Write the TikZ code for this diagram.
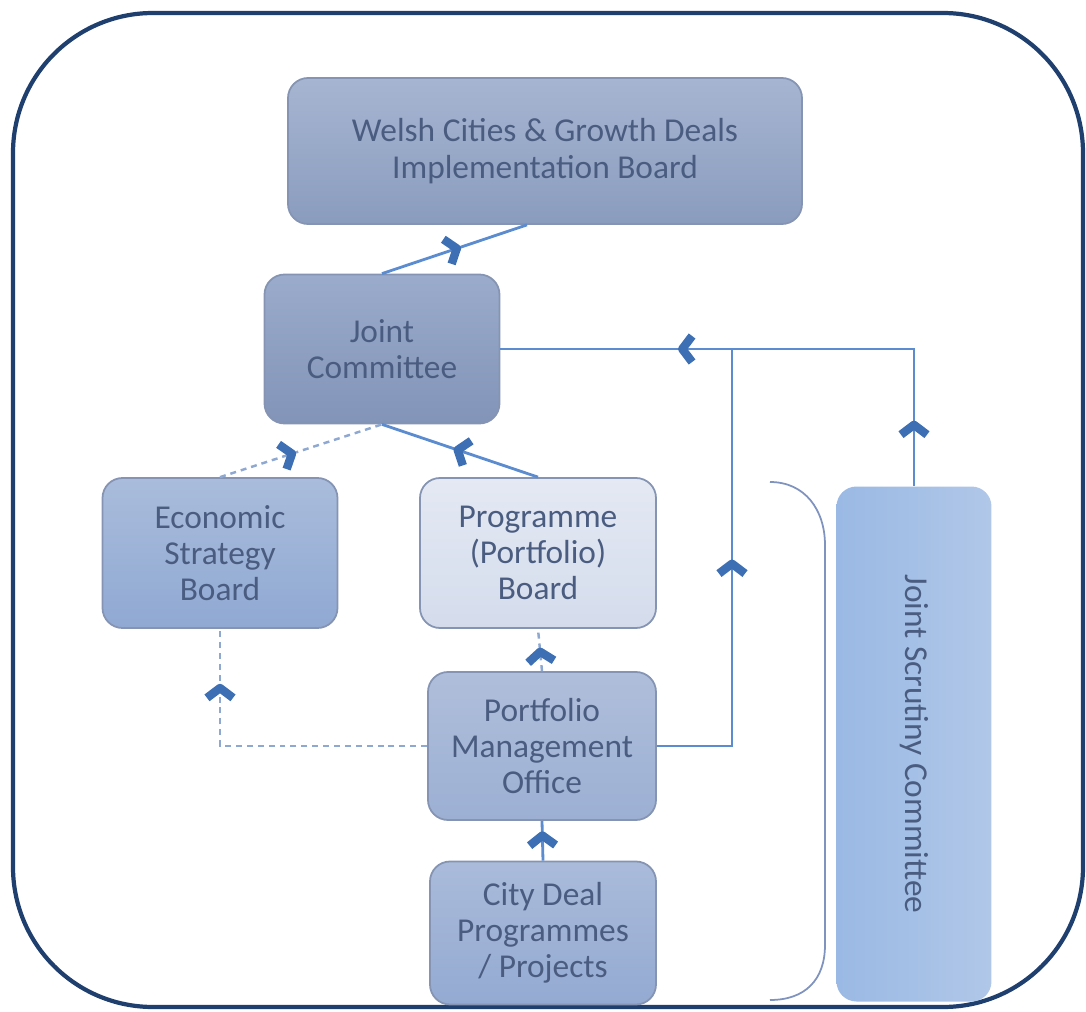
\documentclass[tikz,border=0pt]{standalone}
\usepackage{fontspec}
\setmainfont{Carlito}
\usetikzlibrary{decorations.markings}
\definecolor{framecol}{HTML}{1F3F6E}
\definecolor{boxline}{HTML}{8494B2}
\definecolor{txtcol}{HTML}{4A5C80}
\definecolor{linkcol}{HTML}{5B8CD0}
\definecolor{dashcol}{HTML}{8EA8D2}
\definecolor{chevcol}{HTML}{3D6FB4}
\definecolor{bracketcol}{HTML}{7F93BE}
\definecolor{wcgdtop}{HTML}{A6B5D1}
\definecolor{wcgdbot}{HTML}{8A9CBE}
\definecolor{jctop}{HTML}{9AABCB}
\definecolor{jcbot}{HTML}{8294B8}
\definecolor{esbtop}{HTML}{A9BCDB}
\definecolor{esbbot}{HTML}{90A9D3}
\definecolor{ppbtop}{HTML}{E4E9F3}
\definecolor{ppbbot}{HTML}{D4DCEC}
\definecolor{pmotop}{HTML}{AFBEDA}
\definecolor{pmobot}{HTML}{9CB0D4}
\definecolor{cdptop}{HTML}{AABBDA}
\definecolor{cdpbot}{HTML}{94AAD2}
\definecolor{jscleft}{HTML}{9AB9E4}
\definecolor{jscright}{HTML}{B0C7E8}

\begin{document}
\begin{tikzpicture}[x=0.1mm,y=-0.1mm,
  box/.style={draw=boxline,line width=0.5pt,rounded corners=2mm,align=center,
    text=txtcol,font=\fontsize{9.5}{10.3}\selectfont,inner sep=0pt},
  link/.style={draw=linkcol,line width=0.8pt},
  dlink/.style={draw=dashcol,line width=0.7pt,dash pattern=on 1.7pt off 1.4pt},
  chev/.style={postaction={decorate,decoration={markings,
    mark=at position #1 with {\draw[chevcol,solid,line width=2.4pt,line join=round]
      (-2.1pt,3.7pt) -- (0.7pt,0pt) -- (-2.1pt,-3.7pt);}}}}]
\useasboundingbox (0,0) rectangle (1086,1012);
\draw [framecol,line width=1.2pt,rounded corners=14mm] (13,13) rectangle (1083,1007);

\node [box,top color=wcgdtop,bottom color=wcgdbot,minimum width=51.4mm,minimum height=14.6mm]
  (wcgd) at (545,151) {Welsh Cities \& Growth Deals\\Implementation Board};
\node [box,top color=jctop,bottom color=jcbot,minimum width=23.5mm,minimum height=14.9mm]
  (jc) at (382,349) {Joint\\Committee};
\node [box,top color=esbtop,bottom color=esbbot,minimum width=23.5mm,minimum height=15mm]
  (esb) at (220,553) {Economic\\Strategy\\Board};
\node [box,top color=ppbtop,bottom color=ppbbot,minimum width=23.6mm,minimum height=15mm]
  (ppb) at (538,553) {Programme\\(Portfolio)\\Board};
\node [box,top color=pmotop,bottom color=pmobot,minimum width=22.8mm,minimum height=14.8mm]
  (pmo) at (542,746) {Portfolio\\Management\\Office};
\node [box,top color=cdptop,bottom color=cdpbot,minimum width=22.6mm,minimum height=14.3mm]
  (cdp) at (543,933) {City Deal\\Programmes\\/ Projects};
\node [box,rotate=-90,draw=none,left color=jscleft,right color=jscright,minimum width=51.5mm,minimum height=15.5mm]
  (jsc) at (914,744) {Joint Scrutiny Committee};

\draw [bracketcol,line width=0.5pt] (770,482) .. controls (805,482) and (825,510) .. (825,545)
  -- (825,945) .. controls (825,980) and (805,1000) .. (770,1000);

\draw [link,chev=0.5] (jc.north) -- ([xshift=-1.8mm]wcgd.south);
\draw [link,chev=0.5] (ppb.north) -- (jc.south);
\draw [dlink,chev=0.43] (esb.north) -- (jc.south);
\draw [dlink,chev=0.4] (pmo.north) -- (ppb.south);
\draw [dlink,chev=0.81] (pmo.west) -| (esb.south);
\draw [link,chev=0.57] (cdp.north) -- (pmo.south);
\draw [link,chev=0.54] (pmo.east) -- (732,746) -- (732,349);
\draw [link,chev=0.106,chev=0.665] (jsc.west) |- (jc.east);
\end{tikzpicture}
\end{document}
